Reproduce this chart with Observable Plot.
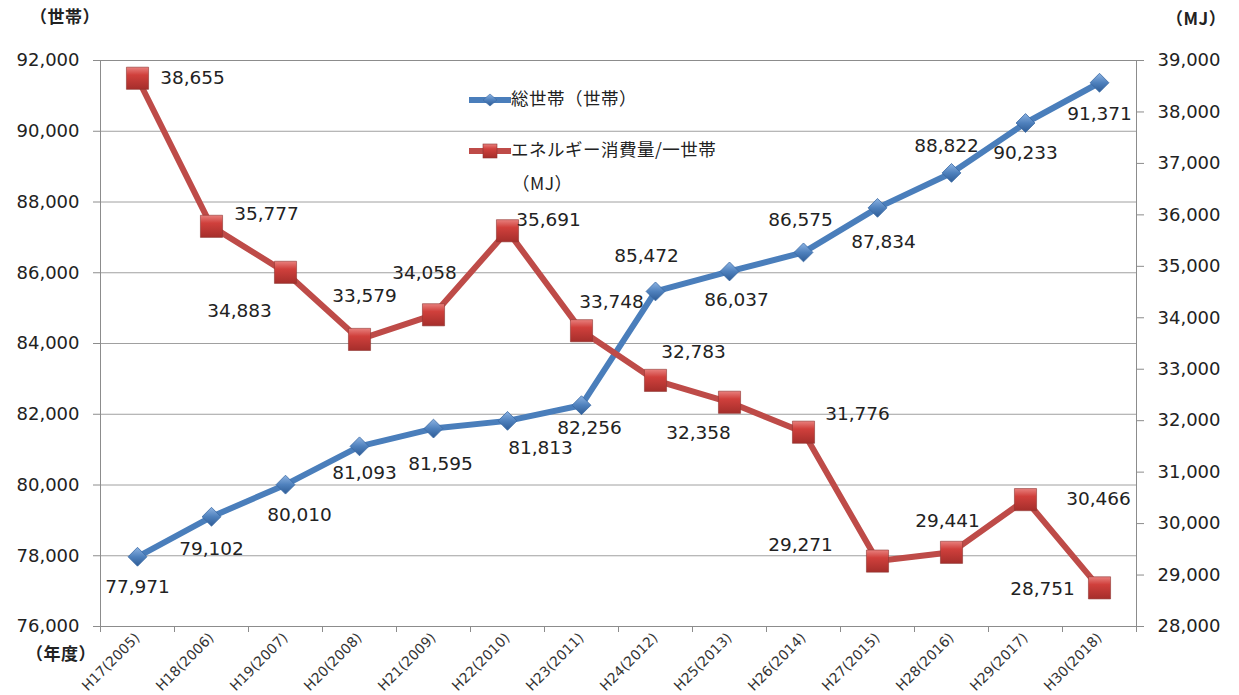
<!DOCTYPE html>
<html><head><meta charset="utf-8">
<script src="https://cdn.jsdelivr.net/npm/d3@7"></script>
<script src="https://cdn.jsdelivr.net/npm/@observablehq/plot@0.6"></script>
<style>
body{margin:0;background:#fff;font-family:"DejaVu Sans","Noto Sans CJK JP",sans-serif;}
#wrap{position:relative;width:1239px;height:695px;}
.ov{position:absolute;color:#222;font-family:"Noto Sans CJK JP",sans-serif;white-space:nowrap;line-height:1.2;}
.ttl{font-weight:bold;font-size:17px;letter-spacing:0.5px;}
.leg{font-size:17.5px;letter-spacing:0.5px;}
</style></head>
<body><div id="wrap"></div>
<script>
const categories = ["H17(2005)","H18(2006)","H19(2007)","H20(2008)","H21(2009)","H22(2010)","H23(2011)","H24(2012)","H25(2013)","H26(2014)","H27(2015)","H28(2016)","H29(2017)","H30(2018)"];
const households = [77971,79102,80010,81093,81595,81813,82256,85472,86037,86575,87834,88822,90233,91371];
const energy = [38655,35777,34883,33579,34058,35691,33748,32783,32358,31776,29271,29441,30466,28751];
const leftTicks = [76000,78000,80000,82000,84000,86000,88000,90000,92000];
const rightTicks = [28000,29000,30000,31000,32000,33000,34000,35000,36000,37000,38000,39000];

// label placement (pixel offsets from the point), layout only
const hhLabelOffsets = [[0,30],[0,32],[14,30],[5,27],[7,36],[33,27],[8,23],[-9,-35],[7,29],[-3,-32],[6,34],[-5,-27],[0,30],[0,31]];
const enLabelOffsets = [[55,0],[55,-12],[-46,39],[5,-43],[-9,-42],[41,-11],[30,-29],[38,-28],[-31,31],[54,-18],[-77,-16],[-4,-31],[73,-1],[-57,1]];

const L0 = 76000, L1 = 92000, R0 = 28000, R1 = 39000;
const toLeft = e => L0 + (e - R0) * (L1 - L0) / (R1 - R0);
const fromLeft = v => R0 + (v - L0) * (R1 - R0) / (L1 - L0);
const fmt = d3.format(",");

const rows = categories.map((c, i) => ({i, pos: i + 0.5, c, h: households[i], e: energy[i], ey: toLeft(energy[i])}));

const labelFont = {fontSize: 18.5, fill: "#222", fontFamily: "DejaVu Sans"};
const hhLabels = rows.map((r, k) => Plot.text([r], {x: "pos", y: "h", text: d => fmt(d.h), dx: hhLabelOffsets[k][0], dy: hhLabelOffsets[k][1], ...labelFont}));
const enLabels = rows.map((r, k) => Plot.text([r], {x: "pos", y: "ey", text: d => fmt(d.e), dx: enLabelOffsets[k][0], dy: enLabelOffsets[k][1], ...labelFont}));

const chart = Plot.plot({
  width: 1239, height: 695,
  marginLeft: 100, marginRight: 103, marginTop: 60, marginBottom: 69,
  style: {color: "#222", fontFamily: "DejaVu Sans", background: "#fff"},
  x: {domain: [0, categories.length], label: null},
  y: {domain: [L0, L1], label: null},
  marks: [
    Plot.gridY({ticks: leftTicks, stroke: "#a0a0a0", strokeOpacity: 1}),
    Plot.frame({stroke: "#8c8c8c"}),
    Plot.axisY({ticks: leftTicks, tickFormat: fmt, tickSize: 7, tickPadding: 14, fontSize: 18, stroke: "#8c8c8c", label: null}),
    Plot.axisY({anchor: "right", ticks: rightTicks.map(toLeft), tickFormat: d => fmt(Math.round(fromLeft(d) / 100) * 100), tickSize: 7, tickPadding: 14, fontSize: 18, stroke: "#8c8c8c", label: null}),
    Plot.axisX({ticks: d3.range(categories.length + 1), tickFormat: () => "", tickSize: 6, stroke: "#8c8c8c", label: null}),
    Plot.axisX({ticks: rows.map(r => r.pos), tickFormat: d => categories[Math.floor(d)], tickSize: 0, tickRotate: -45, tickPadding: 9, fontSize: 14, fontFamily: "DejaVu Sans", fill: "#333", label: null}),
    Plot.line(rows, {x: "pos", y: "h", stroke: "#4A7EBB", strokeWidth: 6}),
    Plot.line(rows, {x: "pos", y: "ey", stroke: "#BE4B48", strokeWidth: 6}),
    Plot.dot(rows, {x: "pos", y: "h", symbol: "diamond2", r: 8.5, fill: "#4F81BD", stroke: "#3A6AA5", strokeWidth: 0.8, className: "hhdot"}),
    Plot.dot(rows, {x: "pos", y: "ey", symbol: "square", r: 12.5, fill: "#C0504D", stroke: "#8E3532", strokeWidth: 0.6, className: "endot"}),
    ...hhLabels,
    ...enLabels
  ]
});

// gradients for markers
const svg = d3.select(chart);
const defs = svg.insert("defs", ":first-child");
const gB = defs.append("linearGradient").attr("id", "gBlue").attr("x1", 0).attr("y1", 0).attr("x2", 0).attr("y2", 1);
gB.append("stop").attr("offset", "0%").attr("stop-color", "#8DB3E2");
gB.append("stop").attr("offset", "50%").attr("stop-color", "#4F81BD");
gB.append("stop").attr("offset", "100%").attr("stop-color", "#2E5C96");
const gR = defs.append("linearGradient").attr("id", "gRed").attr("x1", 0).attr("y1", 0).attr("x2", 0).attr("y2", 1);
gR.append("stop").attr("offset", "0%").attr("stop-color", "#E8807D");
gR.append("stop").attr("offset", "35%").attr("stop-color", "#D0403C");
gR.append("stop").attr("offset", "100%").attr("stop-color", "#A52E2B");
svg.selectAll(".hhdot path").attr("fill", "url(#gBlue)");
svg.selectAll(".endot path").attr("fill", "url(#gRed)");

const wrap = document.getElementById("wrap");
wrap.appendChild(chart);

function addOv(html, style, cls) {
  const d = document.createElement("div");
  d.className = "ov " + cls;
  d.innerHTML = html;
  Object.assign(d.style, style);
  wrap.appendChild(d);
}
addOv("（世帯）", {left: "30px", top: "6px"}, "ttl");
addOv("（MJ）", {left: "1166px", top: "8px"}, "ttl");
addOv("（年度）", {left: "26px", top: "643px"}, "ttl");

const blueIcon = '<svg width="42" height="14" style="vertical-align:middle"><line x1="1" y1="7" x2="41" y2="7" stroke="#4A7EBB" stroke-width="6" stroke-linecap="round"/><path d="M21,1 L28,7 L21,13 L14,7Z" fill="url(#gBlue)" stroke="#3A6AA5" stroke-width="0.6"/></svg>';
const redIcon = '<svg width="42" height="16" style="vertical-align:middle"><line x1="1" y1="8" x2="41" y2="8" stroke="#BE4B48" stroke-width="6" stroke-linecap="round"/><rect x="14" y="1" width="14" height="14" fill="url(#gRed)" stroke="#8E3532" stroke-width="0.6"/></svg>';
addOv(blueIcon + "<span>総世帯（世帯）</span>", {left: "469px", top: "87px"}, "leg");
addOv(redIcon + "<span>エネルギー消費量/一世帯</span>", {left: "469px", top: "138px"}, "leg");
addOv("（MJ）", {left: "512px", top: "172px"}, "leg");
</script></body></html>
